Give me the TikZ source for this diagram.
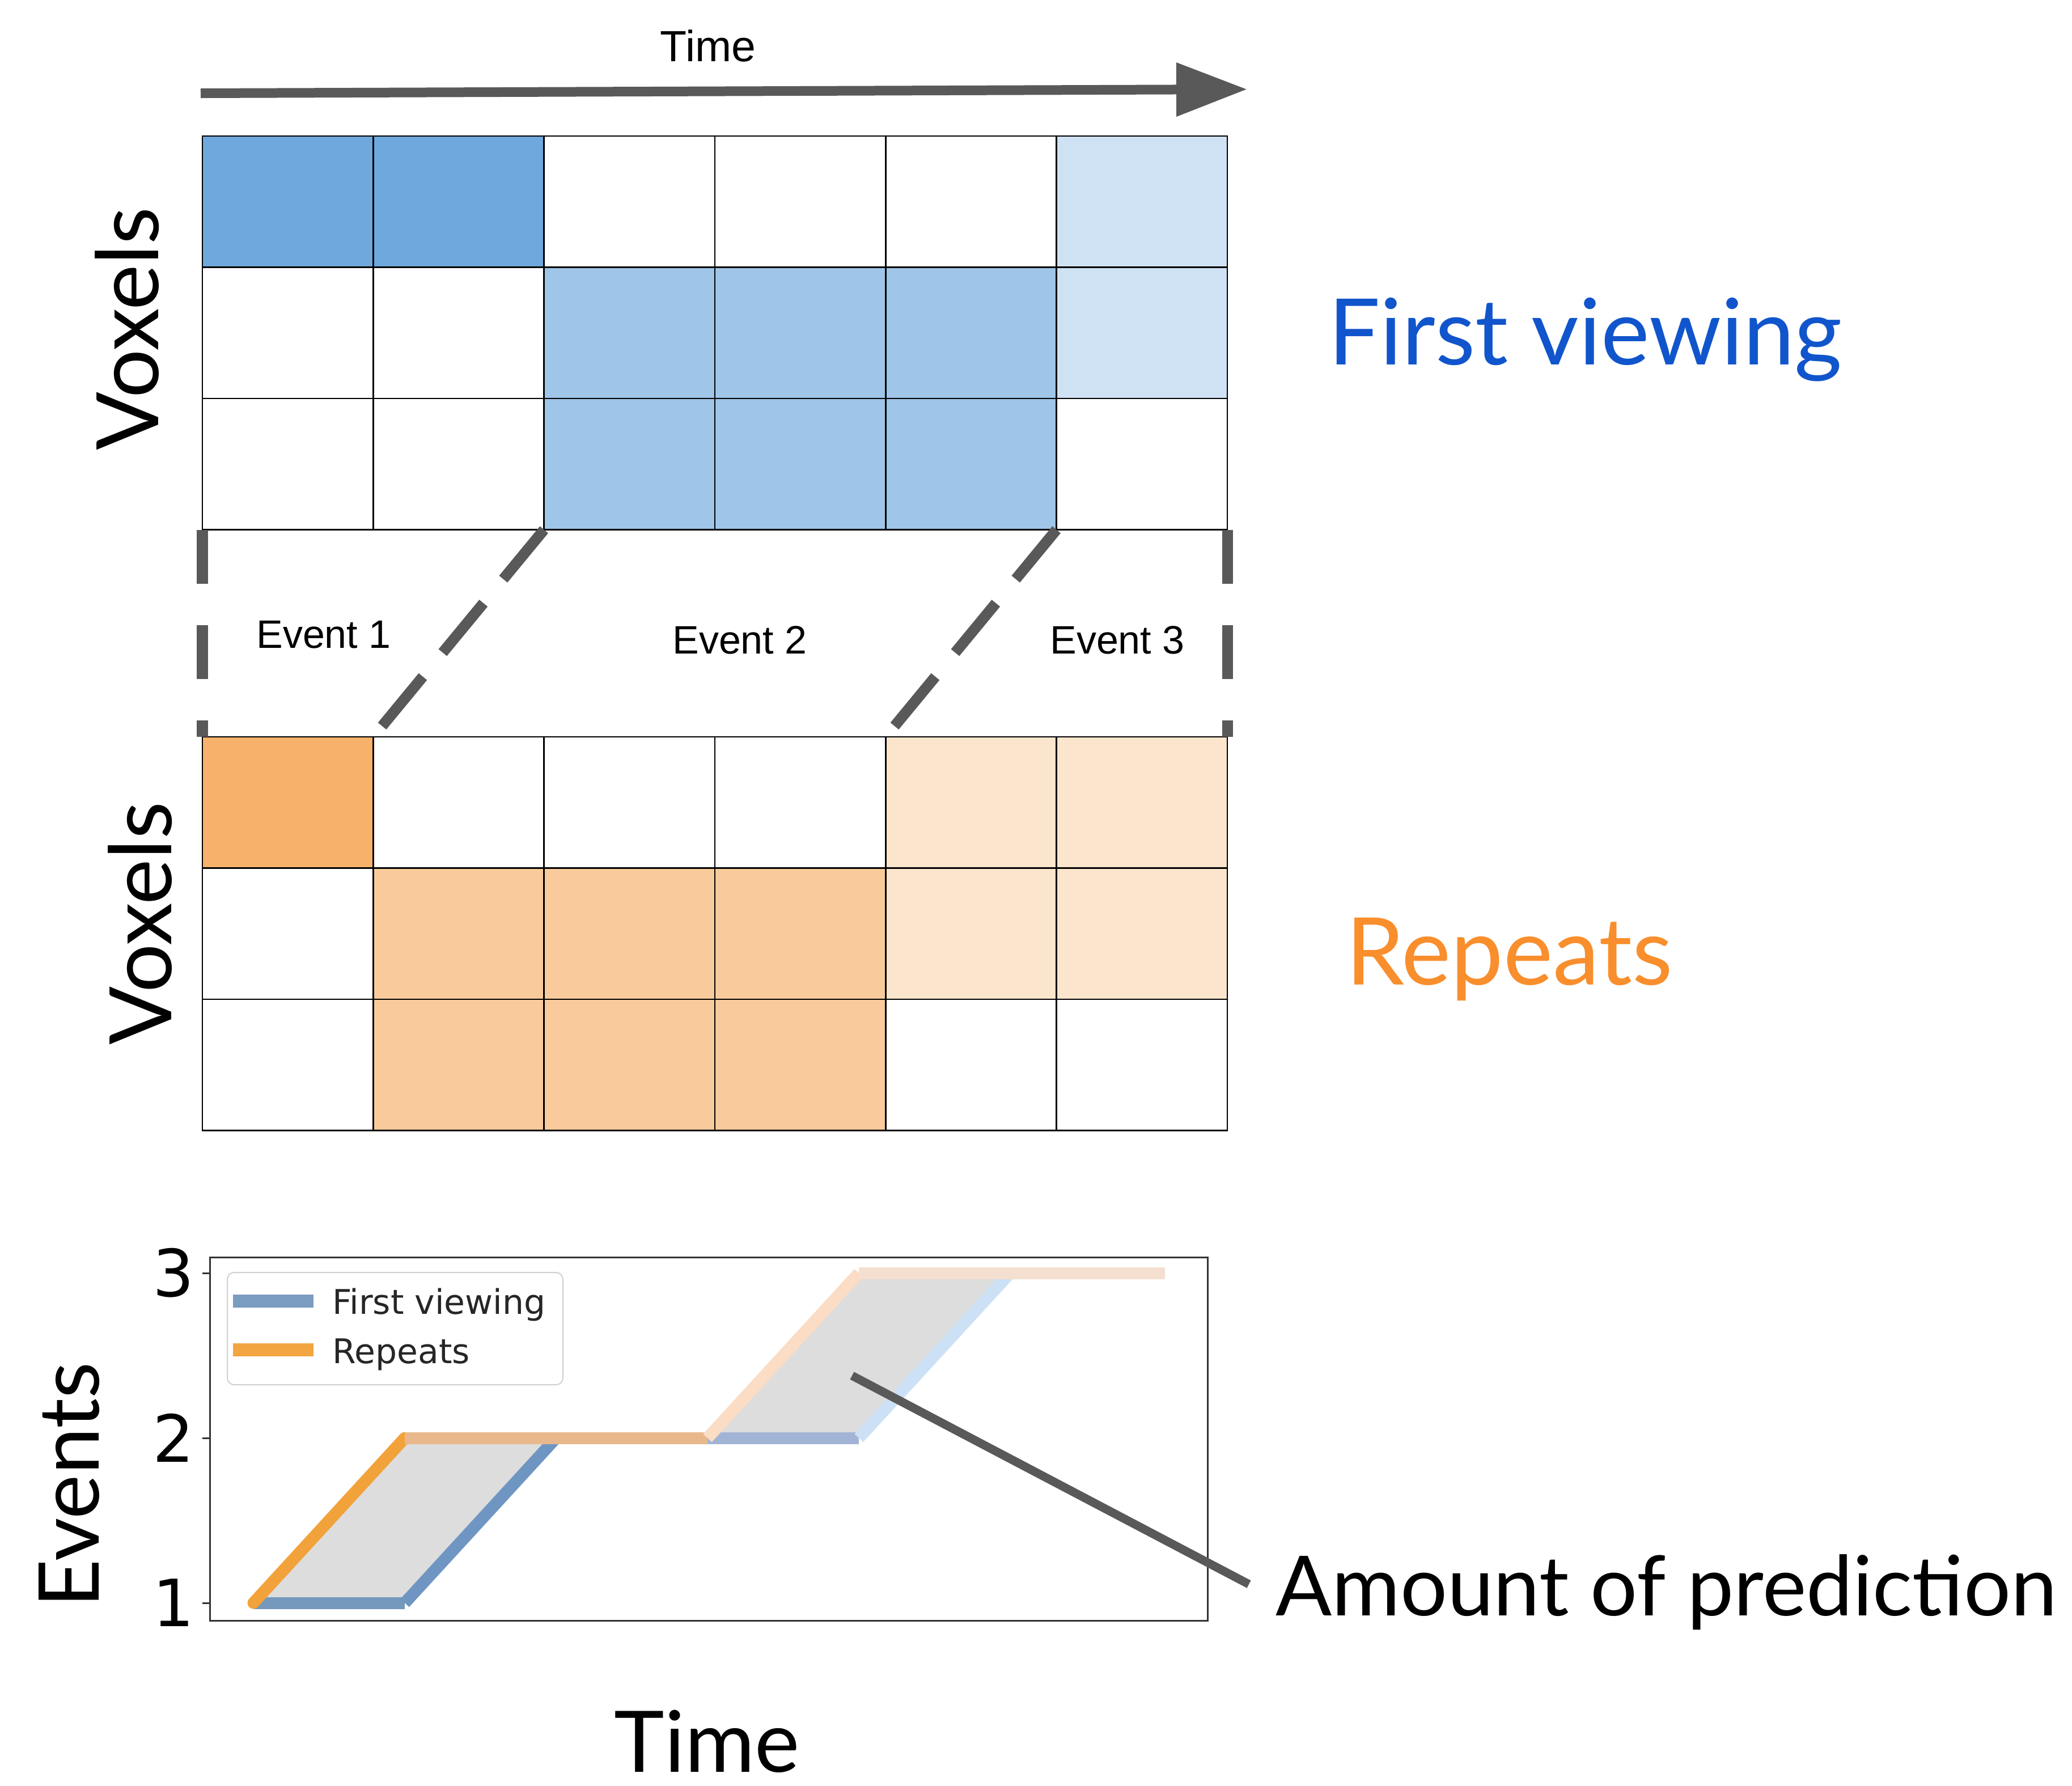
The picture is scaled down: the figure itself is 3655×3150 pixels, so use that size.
\documentclass[tikz,border=0pt]{standalone}
\usepackage{fontspec}
\setmainfont{Lato}
\newfontfamily\arialf{Liberation Sans}
\newfontfamily\dejavu{DejaVu Sans}
\usetikzlibrary{arrows.meta}
\definecolor{bA}{HTML}{6FA8DC}
\definecolor{bB}{HTML}{9FC5E8}
\definecolor{bC}{HTML}{CFE2F3}
\definecolor{oA}{HTML}{F6B26B}
\definecolor{oB}{HTML}{F9CB9C}
\definecolor{oC}{HTML}{FCE5CD}
\definecolor{dg}{HTML}{595959}
\definecolor{fvblue}{HTML}{1155CC}
\definecolor{reporange}{HTML}{F98E2D}
\definecolor{fillgray}{HTML}{DDDDDD}
\definecolor{axc}{HTML}{333333}
\definecolor{legborder}{HTML}{D0D0D0}
\definecolor{blA}{HTML}{7598BD}
\definecolor{blB}{HTML}{6F96C2}
\definecolor{blC}{HTML}{A2B4D6}
\definecolor{blD}{HTML}{CDE1F6}
\definecolor{blE}{HTML}{E6E6EE}
\definecolor{orA}{HTML}{F2A23A}
\definecolor{orB}{HTML}{E8B88C}
\definecolor{orC}{HTML}{FBDCC4}
\definecolor{orD}{HTML}{F4DFD0}
\definecolor{legblue}{HTML}{7A9CC0}
\definecolor{legorange}{HTML}{F2A540}
\begin{document}
\begin{tikzpicture}[x=0.5pt,y=-0.5pt,
  cell/.style={rectangle,draw=black,line width=1.25pt,minimum width=150.67pt,minimum height=115.75pt,inner sep=0pt,outer sep=0pt},
  vdash/.style={draw=dg,line width=9.5pt,dash pattern=on 47.5pt off 36.5pt},
  ddash/.style={draw=dg,line width=9.5pt,dash pattern=on 56.5pt off 27.5pt},
  arialtxt/.style={font=\arialf\fontsize{35pt}{35pt}\selectfont,inner sep=0pt,anchor=base},
  bigtxt/.style={font=\fontsize{76pt}{76pt}\selectfont,inner sep=0pt},
  plotline/.style={line width=10.5pt},
  ticklab/.style={font=\dejavu\fontsize{57.5pt}{57.5pt}\selectfont,inner sep=0pt,anchor=east},
  legtxt/.style={font=\dejavu\fontsize{30pt}{30pt}\selectfont,text=black!85,inner sep=0pt,anchor=base west}]
\useasboundingbox (0,0) rectangle (3655,3150);
\fill[white] (0,0) rectangle (3655,3150);

% time arrow
\node[arialtxt,font=\arialf\fontsize{38.5pt}{38.5pt}\selectfont] (ttime) at (1249,108) {Time};
\coordinate (tA) at (354,164.5);
\coordinate (tB) at (2200,157.5);
\draw[dg,line width=8.5pt,-{Triangle[length=62.5pt,width=45.5pt]}] (tA) -- (tB);

% top grid
\foreach \c/\fa/\fb/\fc in {0/bA/white/white,1/bA/white/white,2/white/bB/bB,3/white/bB/bB,4/white/bB/bB,5/bC/bC/white}{
  \node[cell,fill=\fa] (t0\c) at ({357+301.33*(\c+0.5)},355.75) {};
  \node[cell,fill=\fb] (t1\c) at ({357+301.33*(\c+0.5)},587.25) {};
  \node[cell,fill=\fc] (t2\c) at ({357+301.33*(\c+0.5)},818.75) {};
}
% bottom grid
\foreach \c/\fa/\fb/\fc in {0/oA/white/white,1/white/oB/oB,2/white/oB/oB,3/white/oB/oB,4/oC/oC/white,5/oC/oC/white}{
  \node[cell,fill=\fa] (b0\c) at ({357+301.33*(\c+0.5)},1415.75) {};
  \node[cell,fill=\fb] (b1\c) at ({357+301.33*(\c+0.5)},1647.25) {};
  \node[cell,fill=\fc] (b2\c) at ({357+301.33*(\c+0.5)},1878.75) {};
}

% dashed event boundaries
\draw[vdash] (t20.south west) -- (b00.north west);
\draw[ddash] (t22.south west) -- (b00.north east);
\draw[ddash] (t25.south west) -- (b04.north west);
\draw[vdash] (t25.south east) -- (b05.north east);

\node[arialtxt] (ev1) at (571,1143) {Event 1};
\node[arialtxt] (ev2) at (1305,1153) {Event 2};
\node[arialtxt] (ev3) at (1971,1153) {Event 3};

% side labels
\node[bigtxt,rotate=90] (vox1) at (224,580) {Voxels};
\node[bigtxt,rotate=90] (vox2) at (247,1629) {Voxels};
\node[font=\fontsize{81pt}{81pt}\selectfont,inner sep=0pt,anchor=base west,text=fvblue] (fv) at (2343,643) {First viewing};
\node[font=\fontsize{82.5pt}{82.5pt}\selectfont,inner sep=0pt,anchor=base west,text=reporange] (rp) at (2374,1737) {Repeats};

% plot
\fill[fillgray] (447,2828) -- (714,2537) -- (1248,2537) -- (1515,2246) -- (1782,2246) -- (1515,2537) -- (981,2537) -- (714,2828) -- cycle;
\draw[plotline,blA] (447,2828) -- (714,2828);
\draw[plotline,blB] (714,2828) -- (981,2537);
\draw[plotline,blC] (981,2537) -- (1515,2537);
\draw[plotline,blD] (1515,2537) -- (1782,2246);
\draw[plotline,blE] (1782,2246) -- (2049,2246);
\draw[plotline,orA,line cap=round] (447,2828) -- (714,2537);
\draw[plotline,orB] (714,2537) -- (1248,2537);
\draw[plotline,orC] (1248,2537) -- (1515,2246);
\draw[plotline,orD] (1515,2246) -- (2055,2246);

\draw[axc,line width=1.5pt] (370.7,2218) rectangle (2130,2859);
\foreach \yy in {2246,2537,2828}{\draw[axc,line width=1.5pt] (357,\yy) -- (370.7,\yy);}
\node[ticklab] (y3) at (343,2246) {3};
\node[ticklab] (y2) at (343,2537) {2};
\node[ticklab] (y1) at (343,2828) {1};

% legend
\draw[legborder,fill=white,fill opacity=0.9,rounded corners=6pt,line width=1pt] (401,2245) rectangle (993,2443);
\draw[legblue,line width=11.5pt] (411,2295) -- (553,2295);
\draw[legorange,line width=11.5pt] (411,2381) -- (553,2381);
\node[legtxt] (lg1) at (586,2318) {First viewing};
\node[legtxt] (lg2) at (586,2405) {Repeats};

% pointer and labels
\node[font=\fontsize{73.3pt}{73.3pt}\selectfont,inner sep=0pt,anchor=base west] (amt) at (2250,2850) {Amount of prediction};
\coordinate (pS) at (1503,2427);
\coordinate (pE) at (2203,2795);
\draw[dg,line width=7.5pt] (pS) -- (pE);
\node[bigtxt,font=\fontsize{74pt}{74pt}\selectfont,rotate=90] (evs) at (122,2620) {Events};
\node[font=\fontsize{75pt}{75pt}\selectfont,inner sep=0pt,anchor=base] (tbot) at (1247,3126) {Time};
\end{tikzpicture}
\end{document}
